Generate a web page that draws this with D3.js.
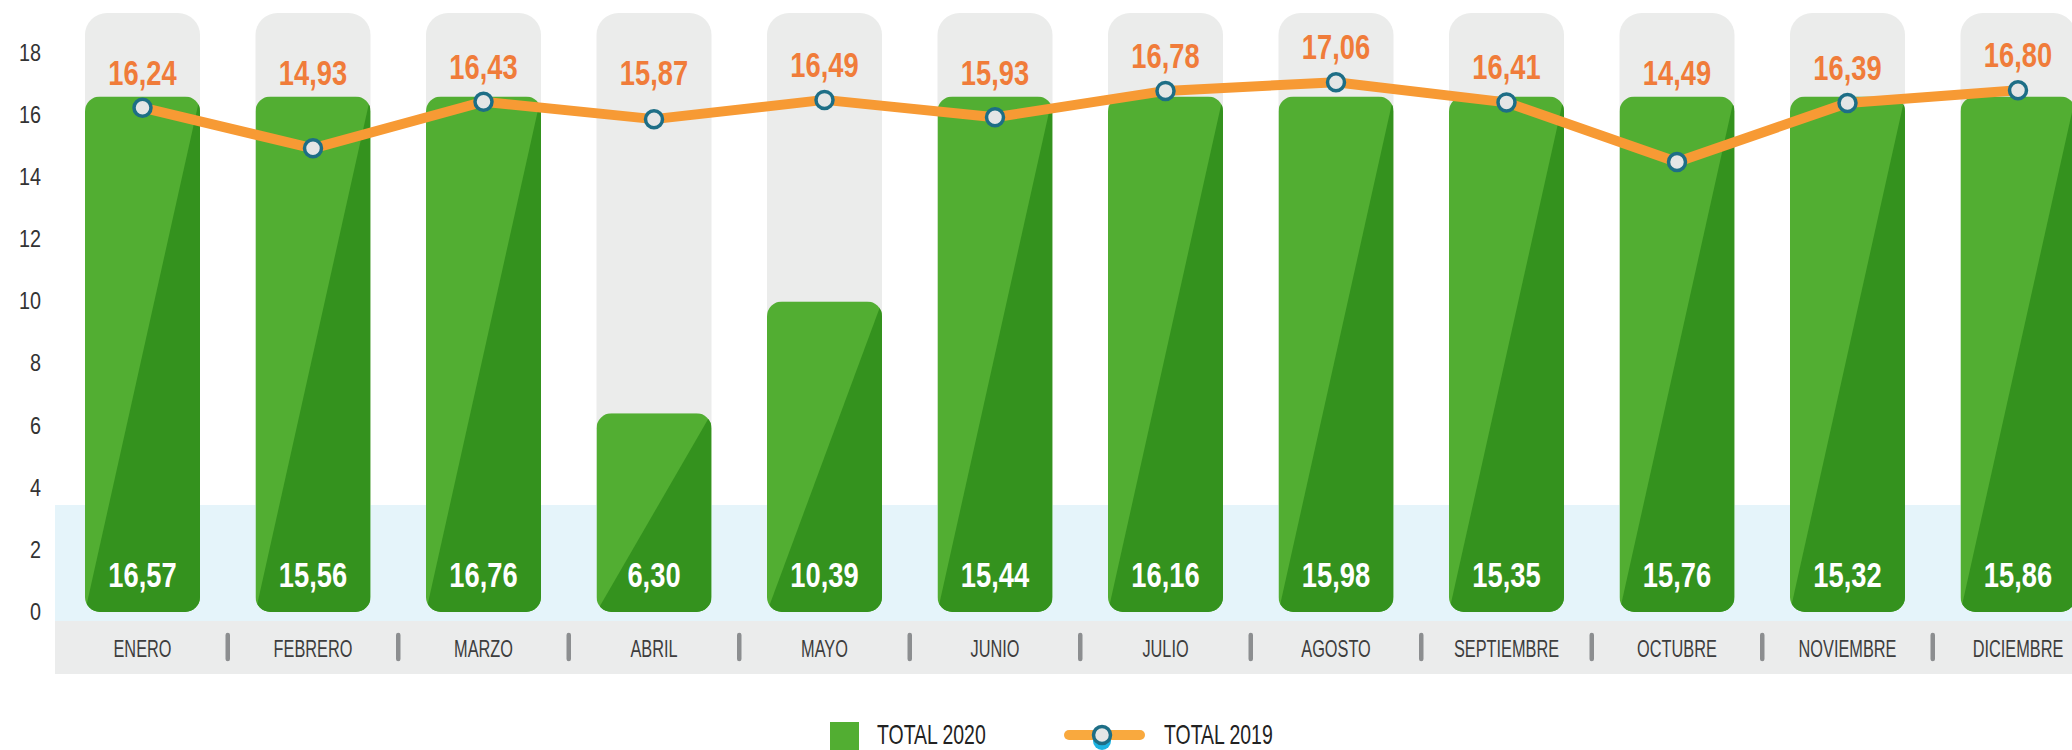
<!DOCTYPE html>
<html>
<head>
<meta charset="utf-8">
<script src="https://cdn.jsdelivr.net/npm/d3@7"></script>
<style>
  html, body { margin: 0; padding: 0; background: #fff; }
  svg { display: block; }
  text { font-family: "Liberation Sans", Arial, sans-serif; }
</style>
</head>
<body>
<svg id="grafico"></svg>
<script>
// datos
var meses = ['ENERO', 'FEBRERO', 'MARZO', 'ABRIL', 'MAYO', 'JUNIO', 'JULIO',
             'AGOSTO', 'SEPTIEMBRE', 'OCTUBRE', 'NOVIEMBRE', 'DICIEMBRE'];
var total2020 = [16.57, 15.56, 16.76, 6.30, 10.39, 15.44, 16.16, 15.98, 15.35, 15.76, 15.32, 15.86];
var total2019 = [16.24, 14.93, 16.43, 15.87, 16.49, 15.93, 16.78, 17.06, 16.41, 14.49, 16.39, 16.80];
var alturaBarras = [16.6, 16.6, 16.6, 6.4, 10.0, 16.6, 16.6, 16.6, 16.6, 16.6, 16.6, 16.6];
var ticksY = [0, 2, 4, 6, 8, 10, 12, 14, 16, 18];
var leyenda = ['TOTAL 2020', 'TOTAL 2019'];

var ancho = 2072, alto = 750;
var base = 612;          // y of value 0
var topeColumna = 13;    // top of the grey background columns
var franjaAzul = {top: 505, bottom: 621};
var franjaGris = {top: 621, bottom: 674};
var izq = 55;

var es = d3.formatLocale({decimal: ',', thousands: '.', grouping: [3], currency: ['', ' €']});
var fmt = es.format('.2f');

// condensed look: no narrow font installed, so squeeze horizontally
function estrecho(px, py, s) {
  return 'translate(' + px + ',' + py + ') scale(' + s + ',1)';
}

var svg = d3.select('#grafico')
    .attr('width', ancho)
    .attr('height', alto);

var pad = 0.3255;
var x = d3.scaleBand()
    .domain(meses)
    .range([57.25, 2103.25])
    .paddingInner(pad)
    .paddingOuter(pad / 2);
var bw = x.bandwidth();
var cx = function(m) { return x(m) + bw / 2; };

var y = d3.scaleLinear()
    .domain([0, 18])
    .range([base, 53]);

// grey columns behind bars
svg.append('g')
  .selectAll('rect')
  .data(meses)
  .enter()
  .append('rect')
    .attr('x', function(d) { return x(d); })
    .attr('y', topeColumna)
    .attr('width', bw)
    .attr('height', base - topeColumna)
    .attr('rx', 22)
    .style('fill', '#ebeceb');

// light blue band and grey axis strip
svg.append('rect')
    .attr('x', izq).attr('y', franjaAzul.top)
    .attr('width', ancho - izq).attr('height', franjaAzul.bottom - franjaAzul.top)
    .style('fill', '#e5f4fa');
svg.append('rect')
    .attr('x', izq).attr('y', franjaGris.top)
    .attr('width', ancho - izq).attr('height', franjaGris.bottom - franjaGris.top)
    .style('fill', '#ebecec');

// bars (light green with dark diagonal half)
var defs = svg.append('defs');
meses.forEach(function(m, i) {
  defs.append('clipPath').attr('id', 'clip' + i)
    .append('rect')
      .attr('x', x(m))
      .attr('y', y(alturaBarras[i]))
      .attr('width', bw)
      .attr('height', base - y(alturaBarras[i]))
      .attr('rx', 15);
});

var barras = svg.append('g')
  .selectAll('g')
  .data(meses)
  .enter()
  .append('g')
    .attr('clip-path', function(d, i) { return 'url(#clip' + i + ')'; });

barras.append('rect')
    .attr('x', function(d) { return x(d); })
    .attr('y', function(d, i) { return y(alturaBarras[i]); })
    .attr('width', bw)
    .attr('height', function(d, i) { return base - y(alturaBarras[i]); })
    .style('fill', '#52ae32');

barras.append('polygon')
    .attr('points', function(d, i) {
      var x0 = x(d), x1 = x(d) + bw, t = y(alturaBarras[i]);
      return [[x0, base], [x1, t], [x1, base]].join(' ');
    })
    .style('fill', '#34921e');

// values 2020 inside bars
svg.append('g')
  .selectAll('text')
  .data(meses)
  .enter()
  .append('text')
    .attr('transform', function(d) { return estrecho(cx(d), base - 25, 0.78); })
    .attr('text-anchor', 'middle')
    .style('font-size', '35px')
    .style('font-weight', 'bold')
    .style('fill', '#ffffff')
    .text(function(d, i) { return fmt(total2020[i]); });

// y axis
var ejeY = svg.append('g')
    .attr('transform', 'translate(41,0)')
    .call(d3.axisLeft(y).tickValues(ticksY).tickSize(0).tickPadding(0));
ejeY.select('.domain').remove();
ejeY.attr('font-family', null);
ejeY.selectAll('text')
    .attr('x', 0)
    .attr('transform', 'scale(0.86,1)')
    .style('font-size', '23px')
    .style('fill', '#333');

// month labels
var ejeX = svg.append('g')
    .attr('transform', 'translate(0,657)')
    .call(d3.axisBottom(x).tickSize(0).tickPadding(0));
ejeX.select('.domain').remove();
ejeX.attr('font-family', null);
ejeX.selectAll('text')
    .attr('y', 0).attr('dy', 0)
    .attr('transform', 'scale(0.68,1)')
    .style('font-size', '24px')
    .style('fill', '#3d3d3d');

// separators
svg.append('g')
  .selectAll('line')
  .data(meses.slice(0, -1))
  .enter()
  .append('line')
    .attr('x1', function(d) { return x(d) + bw + x.step() * pad / 2; })
    .attr('x2', function(d) { return x(d) + bw + x.step() * pad / 2; })
    .attr('y1', 635).attr('y2', 659)
    .style('stroke', '#8c8e90')
    .style('stroke-width', 4.5)
    .style('stroke-linecap', 'round');

// 2019 line
var linea = d3.line()
    .x(function(d, i) { return cx(meses[i]); })
    .y(function(d) { return y(d); });

svg.append('path')
    .datum(total2019)
    .attr('d', linea)
    .style('fill', 'none')
    .style('stroke', '#f79a34')
    .style('stroke-width', 10)
    .style('stroke-linejoin', 'round');

svg.append('g')
  .selectAll('circle')
  .data(total2019)
  .enter()
  .append('circle')
    .attr('cx', function(d, i) { return cx(meses[i]); })
    .attr('cy', function(d) { return y(d); })
    .attr('r', 8.5)
    .style('fill', '#e4e6e6')
    .style('stroke', '#1d6e86')
    .style('stroke-width', 3.5);

// values 2019 above
svg.append('g')
  .selectAll('text')
  .data(total2019)
  .enter()
  .append('text')
    .attr('transform', function(d, i) { return estrecho(cx(meses[i]), Math.min(85, y(d) - 23), 0.78); })
    .attr('text-anchor', 'middle')
    .style('font-size', '35px')
    .style('font-weight', 'bold')
    .style('fill', '#f07c3a')
    .text(function(d) { return fmt(d); });

// legend
var ley = svg.append('g');
ley.append('rect')
    .attr('x', 830).attr('y', 722)
    .attr('width', 29).attr('height', 29)
    .style('fill', '#52ae32');
ley.append('text')
    .attr('transform', estrecho(877, 744, 0.72))
    .style('font-size', '27px')
    .style('fill', '#222')
    .text(leyenda[0]);
ley.append('line')
    .attr('x1', 1069).attr('x2', 1140)
    .attr('y1', 735).attr('y2', 735)
    .style('stroke', '#f9a93e')
    .style('stroke-width', 10)
    .style('stroke-linecap', 'round');
ley.append('circle')
    .attr('cx', 1102).attr('cy', 741).attr('r', 9)
    .style('fill', '#1db4e2');
ley.append('circle')
    .attr('cx', 1102).attr('cy', 735).attr('r', 8.5)
    .style('fill', '#e4e6e6')
    .style('stroke', '#1d6e86')
    .style('stroke-width', 3.5);
ley.append('text')
    .attr('transform', estrecho(1164, 744, 0.72))
    .style('font-size', '27px')
    .style('fill', '#222')
    .text(leyenda[1]);
</script>
</body>
</html>
